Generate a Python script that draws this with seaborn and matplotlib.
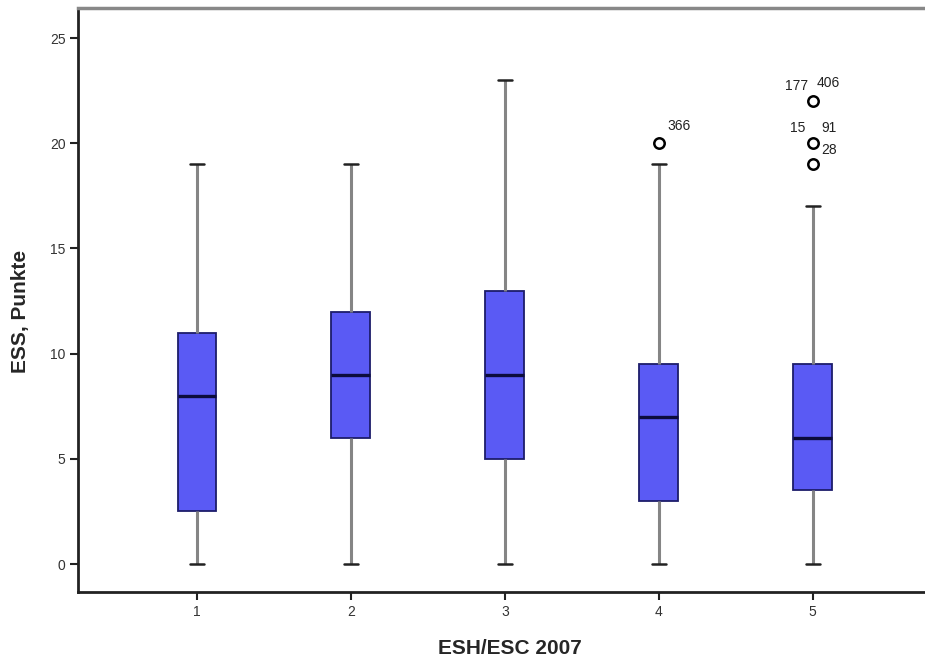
import matplotlib
matplotlib.use("Agg")
import matplotlib.pyplot as plt
import seaborn as sns
import pandas as pd

# Five-number summaries per group (lower whisker, Q1, median, Q3, upper whisker)
groups = ["1", "2", "3", "4", "5"]
whisker_low = [0, 0, 0, 0, 0]
q1 = [2.5, 6, 5, 3, 3.5]
median = [8, 9, 9, 7, 6]
q3 = [11, 12, 13, 9.5, 9.5]
whisker_high = [19, 19, 23, 19, 17]

# Outliers with their case labels
outlier_group = ["4", "5", "5", "5"]
outlier_value = [20, 22, 20, 19]

outlier_labels = [
    # (group, value, text, dx pt, dy pt, ha)
    ("4", 20, "366", 6.5, 12.5, "left"),
    ("5", 22, "177", -3.5, 11.0, "right"),
    ("5", 22, "406", 3.0, 13.0, "left"),
    ("5", 20, "15", -5.0, 11.0, "right"),
    ("5", 20, "91", 6.0, 11.0, "left"),
    ("5", 20, "28", 6.5, -4.5, "left"),
]

rows = []
for g, a, b, c, d, e in zip(groups, whisker_low, q1, median, q3, whisker_high):
    for v in (a, b, c, d, e):
        rows.append({"group": g, "value": v})
df = pd.DataFrame(rows)
df_out = pd.DataFrame({"group": outlier_group, "value": outlier_value})

sns.set_style("white")
plt.rcParams["font.family"] = ["Liberation Sans", "DejaVu Sans"]

fig = plt.figure(figsize=(9.25, 6.61), dpi=100)
ax = fig.add_axes([78 / 925, 1 - 592 / 661, 1.02 - 78 / 925, (592 - 8) / 661])

box_color = "#5a5af4"
edge_color = "#1c1c6a"
whisk_color = "#858585"
cap_color = "#222222"

sns.boxplot(
    data=df, x="group", y="value", order=groups, ax=ax,
    whis=(0, 100), showfliers=False, width=0.253,
    color=box_color, linecolor=edge_color, linewidth=1.3,
    saturation=1,
    medianprops=dict(color="#0c0c3c", linewidth=2.4),
    whiskerprops=dict(color=whisk_color, linewidth=2.2),
    capprops=dict(color=cap_color, linewidth=1.8),
)

# Narrower whisker caps, centred on each box
for line in ax.lines:
    xs = line.get_xdata()
    ys = line.get_ydata()
    if len(xs) == 2 and ys[0] == ys[1] and line.get_color() == cap_color:
        c = (xs[0] + xs[1]) / 2
        half = abs(xs[1] - xs[0]) / 2 * 0.72
        line.set_xdata([c - half, c + half])

sns.stripplot(
    data=df_out, x="group", y="value", order=groups, ax=ax,
    jitter=False, color="white", edgecolor="black", linewidth=1.8,
    size=7.5, marker="o", zorder=5,
)

pos = {g: i for i, g in enumerate(groups)}
for g, v, txt, dx, dy, ha in outlier_labels:
    ax.annotate(txt, xy=(pos[g], v), xytext=(dx, dy), textcoords="offset points",
                ha=ha, va="center", fontsize=10, color="#222222")

ax.set_ylim(-1.33, 26.43)
ax.set_xlim(-0.773, 4.85)
ax.set_yticks([0, 5, 10, 15, 20, 25])
ax.set_xticks(range(len(groups)))
ax.set_xticklabels(groups)

ax.set_xlabel("ESH/ESC 2007", fontsize=15, fontweight="bold")
ax.set_ylabel("ESS, Punkte", fontsize=15, fontweight="bold")
ax.xaxis.set_label_coords(0.4985, -0.08)
ax.yaxis.set_label_coords(-0.055, 0.48)

for side in ["left", "bottom"]:
    ax.spines[side].set_color("#222222")
    ax.spines[side].set_linewidth(2.0)
ax.spines["top"].set_color("#888888")
ax.spines["top"].set_linewidth(2.5)
ax.spines["right"].set_visible(False)

ax.tick_params(axis="both", which="major", direction="out", length=6, width=1.5,
               color="#222222", labelsize=10, labelcolor="#333333", pad=3,
               left=True, bottom=True)

fig.savefig("out.png", dpi=100)
